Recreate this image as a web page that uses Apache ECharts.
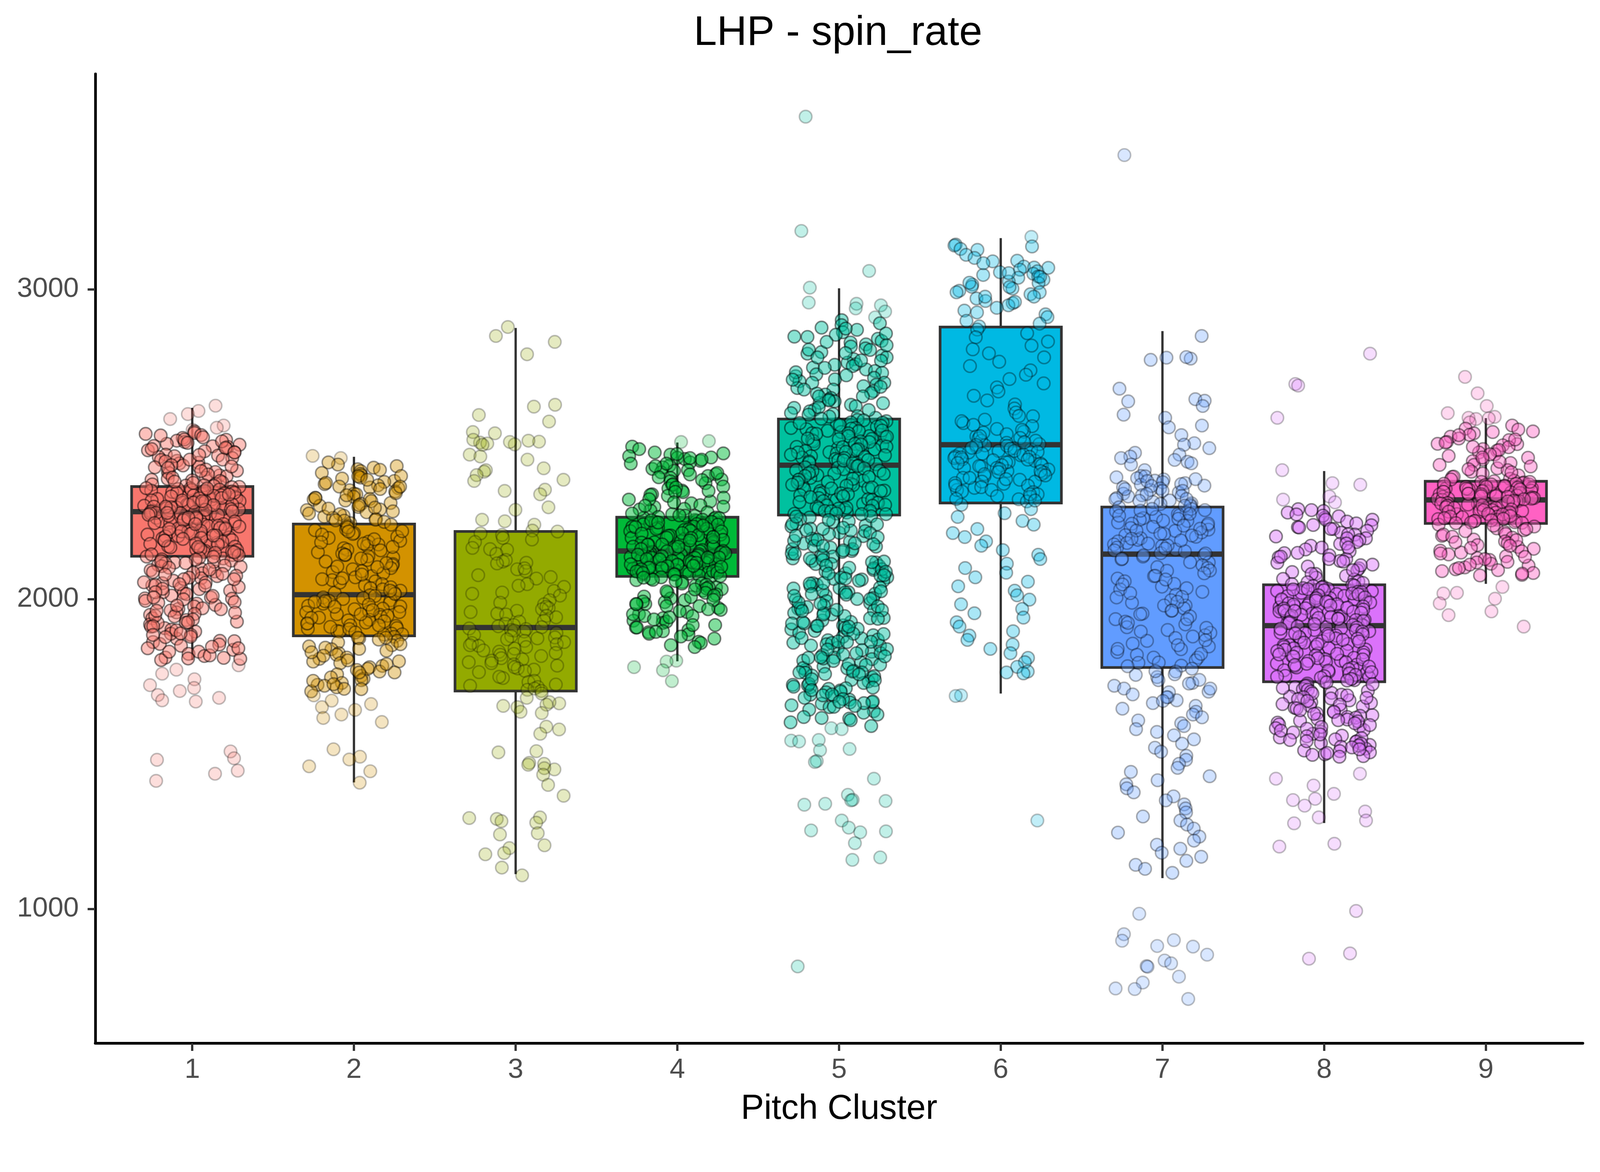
<!DOCTYPE html>
<html>
<head>
<meta charset="utf-8">
<title>LHP - spin_rate</title>
<script src="https://cdn.jsdelivr.net/npm/echarts@6/dist/echarts.min.js"></script>
<style>
    html, body { margin: 0; padding: 0; background: #ffffff; overflow: hidden; }
    #chart { width: 4200px; height: 3000px; }
</style>
</head>
<body>
<div id="chart"></div>
<script>
// pitch clusters on the x axis
var clusters = [1, 2, 3, 4, 5, 6, 7, 8, 9];
var yTicks = [1000, 2000, 3000];

// box statistics
var whiskerLow  = [1803, 1408, 1112, 1799, 1814, 1695, 1099, 1277, 2049];
var quart1      = [2138, 1881, 1703, 2073, 2271, 2310, 1779, 1733, 2244];
var medians     = [2282, 2014, 1908, 2155, 2432, 2498, 2145, 1914, 2320];
var quart3      = [2363, 2242, 2218, 2264, 2581, 2878, 2297, 2046, 2380];
var whiskerHigh = [2617, 2459, 2875, 2505, 3003, 3165, 2865, 2413, 2584];

// individual pitches (spin rate), one array per cluster
var spin1 = [2624,2607,2597,2581,2560,2553,2546,2541,2536,2533,2529,2522,2520,2514,2511,2507,2501,2498,2493,2491,2486,2480,2477,2474,2466,2463,2458,2455,2449,2446,2440,2438,2431,2427,2425,2418,2414,2409,2406,2399,2396,2392,2385,2383,2377,2372,2370,2366,2362,2361,2357,2355,2352,2350,2347,2346,2342,2339,2338,2334,2331,2330,2326,2323,2321,2318,2316,2313,2311,2308,2305,2304,2301,2298,2296,2293,2291,2289,2286,2284,2281,2277,2275,2271,2268,2264,2262,2257,2254,2251,2246,2243,2240,2236,2231,2228,2224,2219,2216,2212,2208,2203,2199,2196,2190,2187,2182,2178,2173,2169,2164,2160,2155,2151,2146,2142,2137,2131,2124,2118,2110,2104,2097,2089,2083,2074,2067,2059,2051,2044,2036,2027,2019,2011,2002,1994,1985,1976,1968,1957,1949,1938,1927,1918,1906,1895,1884,1872,1861,1849,1836,1823,1811,1803,1786,1772,1759,1741,1722,1713,1703,1690,1681,1673,1669,1508,1486,1481,1446,1436,1413,
    2528,2515,2509,2494,2488,2473,2461,2450,2444,2432,2423,2410,2402,2388,2381,2375,2367,2365,2358,2353,2349,2343,2341,2335,2333,2326,2325,2318,2314,2311,2305,2303,2298,2296,2290,2288,2283,2282,2278,2276,2272,2269,2265,2261,2259,2254,2250,2245,2242,2237,2234,2229,2227,2220,2218,2213,2211,2205,2202,2197,2194,2188,2185,2179,2176,2170,2167,2161,2158,2153,2149,2144,2141,2133,2128,2120,2115,2106,2101,2093,2085,2079,2069,2064,2054,2048,2039,2032,2022,2016,2005,1999,1988,1981,1970,1963,1952,1944,1932,1923,1911,1901,1888,1878,1865,1855,1841,1830,1816,1807,2504,2484,2465,2450,2428,2413,2392,2379,2357,2337,2316,2298,2278,2263,2242,2226,2205,2189,2168,2151,
    2136,2127,2116,2108,2095,2087,2075,2064,2053,2045,2033,2022,2010,2001,1990,1979,1967,1956,1946,1934,1923,1912,1899,1889,1877,1864,1853,1841,1830,1818,1808,2122,2081,2043,2005,1962,1925,1884,1846,1810];
var spin2 = [2462,2455,2434,2429,2419,2413,2404,2399,2392,2389,2381,2378,2371,2367,2360,2358,2351,2347,2340,2338,2330,2327,2321,2318,2310,2307,2301,2297,2289,2287,2280,2276,2269,2266,2258,2256,2249,2245,2237,2234,2225,2222,2213,2210,2201,2197,2188,2185,2176,2172,2164,2159,2151,2147,2138,2134,2126,2121,2113,2109,2100,2096,2087,2083,2074,2070,2061,2057,2048,2044,2035,2031,2023,2020,2016,2012,2005,2003,1996,1994,1987,1985,1978,1976,1969,1967,1960,1958,1951,1949,1942,1940,1933,1931,1924,1922,1915,1913,1906,1904,1897,1895,1888,1886,1878,1873,1865,1860,1851,1847,1838,1833,1825,1820,1811,1807,1798,1793,1784,1780,1771,1766,1757,1752,1743,1738,1729,1723,1715,1710,1702,1689,1672,1661,1651,1642,1627,1616,1603,1515,1491,1482,1460,1444,1407,
    2441,2424,2417,2407,2396,2385,2375,2363,2355,2342,2335,2323,2316,2303,2295,2283,2274,2262,2253,2240,2231,2218,2208,2193,2183,2168,2157,2142,2131,2116,2105,2090,2079,2064,2053,2038,2027,2017,2010,2000,1993,1982,1975,1964,1957,1946,1939,1928,1921,1910,1903,1892,1885,1875,1869,1854,1843,1828,1817,1802,1790,1775,1763,1747,1736,1720,1709,2397,2363,2326,2292,2254,2219,2179,2143,2103,2067,2027,1991,1951,1915,1875,1839,1799,1763,1725];
var spin3 = [2878,2849,2830,2790,2627,2621,2594,2573,2539,2535,2508,2511,2505,2514,2502,2499,2507,2498,2466,2460,2450,2422,2416,2411,2400,2385,2381,2353,2349,2338,2296,2288,2256,2251,2240,2218,2212,2221,2207,2197,2192,2184,2165,2161,2159,2146,2121,2126,2117,2115,2096,2090,2099,2071,2066,2077,2048,2043,2039,2021,2017,2026,2011,1996,1983,1988,1971,1967,1975,1958,1953,1962,1946,1941,1950,1927,1930,1920,1916,1905,1900,1909,1903,1912,1895,1890,1898,1880,1884,1876,1870,1865,1873,1858,1854,1861,1845,1849,1840,1851,1830,1834,1826,1820,1816,1823,1805,1809,1801,1789,1793,1785,1796,1776,1780,1772,1764,1768,1745,1749,1732,1736,1720,1724,1716,1707,1711,1703,1695,1681,1663,1667,1659,1651,1655,1632,1636,1588,1579,1565,1509,1505,1471,1468,1465,1450,1454,1433,1400,1365,1295,1290,1293,1283,1278,1240,1244,1205,1196,1180,1176,1133,1108];
var spin4 = [2510,2507,2492,2484,2473,2470,2466,2461,2456,2452,2446,2441,2437,2431,2425,2420,2414,2409,2403,2397,2391,2386,2380,2374,2368,2363,2357,2350,2345,2338,2333,2327,2321,2315,2309,2303,2297,2291,2286,2280,2274,2269,2265,2262,2259,2255,2252,2248,2245,2241,2237,2233,2230,2226,2223,2219,2215,2212,2208,2205,2201,2197,2194,2190,2187,2183,2179,2176,2172,2169,2165,2161,2158,2154,2152,2149,2146,2144,2141,2139,2136,2133,2131,2128,2125,2123,2120,2117,2114,2112,2109,2106,2104,2101,2098,2096,2093,2090,2088,2085,2082,2079,2076,2071,2066,2061,2055,2050,2044,2038,2032,2027,2021,2015,2008,2002,1996,1990,1984,1977,1971,1965,1958,1951,1945,1938,1930,1923,1916,1908,1900,1893,1886,1879,1872,1862,1858,1851,1845,1801,1798,1780,1770,1735,
    2468,2457,2450,2437,2429,2416,2407,2393,2384,2370,2360,2346,2336,2322,2312,2298,2289,2276,2268,2263,2261,2256,2254,2249,2247,2242,2240,2234,2232,2227,2225,2220,2218,2213,2211,2206,2204,2198,2197,2191,2189,2184,2182,2176,2175,2169,2168,2162,2161,2155,2154,2150,2148,2145,2143,2140,2138,2134,2133,2129,2128,2123,2122,2118,2117,2112,2111,2107,2106,2101,2100,2096,2095,2090,2089,2085,2084,2080,2079,2074,2070,2062,2058,2050,2046,2038,2034,2025,2020,2011,2006,1997,1992,1983,1977,1967,1961,1951,1945,1934,1927,1916,1908,1896,1888,2455,2402,2349,2301,2270,2237,2200,2169,2134,2104,2069,2031,1984,1941,1894];
var spin5 = [3557,3188,3059,3005,2957,2953,2948,2938,2928,2909,2900,2890,2884,2876,2869,2861,2853,2847,2840,2833,2828,2822,2815,2809,2804,2797,2792,2786,2780,2774,2769,2763,2758,2752,2747,2741,2736,2730,2725,2719,2714,2709,2703,2698,2692,2687,2681,2676,2671,2665,2660,2654,2649,2644,2638,2633,2627,2622,2617,2611,2606,2600,2595,2590,2585,2578,2574,2569,2565,2561,2556,2552,2548,2543,2539,2535,2530,2526,2522,2517,2513,2509,2504,2500,2496,2491,2487,2483,2478,2474,2470,2465,2461,2457,2452,2448,2444,2439,2435,2428,2424,2419,2414,2410,2405,2400,2396,2391,2386,2382,2377,2372,2368,2363,2358,2354,2349,2344,2340,2335,2330,2326,2321,2316,2312,2307,2302,2298,2293,2288,2284,2279,2275,2263,2251,2238,2227,2214,2203,2190,2179,2166,2155,2142,2131,2118,2107,2094,2083,2070,2059,2046,2035,2022,2011,1998,1987,1974,1963,1950,1939,1926,1915,1902,1891,1878,1867,1854,1843,1830,1819,1806,1795,1782,1771,1758,1747,1734,1723,1710,1699,1686,1675,1662,1651,1638,1627,1614,1602,1590,1583,1580,1545,1543,1540,1516,1512,1477,1474,1420,1368,1352,1350,1348,1339,1336,1285,1262,1253,1250,1247,1212,1166,1158,814,
    2873,2857,2846,2830,2819,2805,2794,2780,2770,2756,2746,2732,2722,2708,2698,2685,2676,2663,2654,2641,2632,2619,2610,2597,2589,2582,2577,2570,2568,2561,2559,2552,2550,2544,2542,2535,2533,2526,2524,2518,2516,2509,2507,2501,2498,2492,2490,2484,2481,2475,2473,2466,2464,2458,2455,2449,2447,2440,2438,2431,2429,2425,2422,2415,2413,2406,2404,2397,2394,2388,2385,2378,2376,2369,2366,2360,2357,2350,2348,2341,2338,2332,2329,2322,2320,2313,2311,2304,2301,2295,2292,2285,2283,2276,2274,2267,2258,2244,2234,2219,2209,2195,2185,2171,2161,2147,2137,2123,2113,2099,2089,2075,2065,2051,2041,2027,2017,2003,1993,1979,1969,1955,1945,1931,1921,1907,1897,1883,1873,1859,1849,1835,1825,1811,1801,1787,1777,1763,1753,1739,1729,1715,1705,1691,1681,1667,1657,1643,1633,1619,1609,2242,2192,2146,2096,2050,2000,1954,1904,1858,1808,1762,1712,1666,1616,2221,2169,2121,2069,2021,1969,1921,1869,1821,1769,1721,1669,
    2266,2249,2241,2226,2213,2199,2188,2177,2161,2152,2139,2126,2113,2101,2088,2077,2063,2052,2037,2025,2014,2000,1989,1976,1964,1950,1938,1925,1913,1899,1888,1874,1863,1850,1837,1825,1812,1800,1788,1776,1763,1751,1738,1726,1714,1701,1689,1677,1664,1652,2255,2230,2204,2180,2157,2131,2108,2082,2059,2034,2010,1985,1961,1936,1911,1887,1862,1838,1815,1790,1766,1741,1717,1692,1668,2274,2222,2171,2119,2066,2016,1965,1913,1861,1810,1757,1706,1655];
var spin6 = [3169,3144,3141,3138,3130,3127,3111,3092,3090,3073,3070,3063,3058,3055,3050,3046,3041,3037,3031,3025,3020,3015,3008,3002,2995,2990,2984,2976,2970,2962,2955,2948,2940,2931,2925,2919,2910,2898,2889,2880,2870,2858,2845,2831,2818,2806,2793,2780,2766,2752,2738,2724,2710,2696,2683,2670,2656,2641,2628,2615,2602,2590,2579,2568,2558,2549,2540,2532,2525,2518,2511,2504,2500,2496,2491,2487,2482,2478,2473,2469,2464,2460,2455,2451,2446,2442,2437,2432,2428,2423,2418,2413,2408,2402,2397,2391,2385,2379,2372,2366,2359,2352,2345,2338,2330,2322,2315,2304,2290,2277,2265,2252,2240,2226,2213,2200,2186,2172,2158,2143,2129,2114,2100,2085,2070,2056,2041,2027,2012,1998,1983,1968,1954,1940,1925,1911,1896,1882,1868,1853,1839,1825,1810,1796,1781,1766,1763,1760,1689,1687,1285,
    3101,3084,3069,3052,3040,3021,3007,2990,2976,2959,2591,2574,2562,2546,2537,2526,2520,2511,2506,2497,2495,2488,2485,2478,2475,2469,2466,2459,2457,2450,2448,2441,2439,2432,2429,2423,2420,2413,2410,2403,2399,2391,2387,2379,2374,2366,2361,2352,2347,2338,2332,2323,2318];
var spin7 = [3433,2849,2779,2776,2772,2781,2679,2645,2640,2638,2623,2595,2585,2560,2554,2529,2503,2498,2487,2472,2466,2460,2455,2449,2443,2438,2434,2416,2397,2393,2390,2386,2382,2377,2374,2369,2366,2361,2357,2352,2349,2344,2340,2335,2331,2326,2322,2318,2313,2309,2304,2300,2296,2291,2287,2283,2278,2274,2270,2265,2261,2256,2252,2247,2243,2238,2233,2229,2224,2220,2215,2210,2206,2201,2196,2191,2186,2181,2176,2171,2166,2160,2154,2148,2142,2137,2128,2118,2109,2100,2092,2083,2074,2066,2057,2049,2040,2031,2023,2014,2005,1996,1988,1979,1970,1962,1953,1944,1935,1927,1918,1909,1900,1891,1883,1874,1865,1856,1847,1838,1829,1820,1811,1802,1794,1785,1775,1766,1757,1748,1738,1729,1720,1711,1701,1692,1683,1673,1664,1655,1646,1636,1627,1618,1608,1599,1590,1580,1571,1560,1547,1533,1520,1507,1494,1481,1468,1455,1442,1428,1415,1402,1389,1376,1363,1350,1337,1324,1311,1298,1285,1272,1259,1246,1233,1220,1207,1194,1181,1168,1155,1142,1129,1116,984,918,899,897,880,878,852,833,824,815,813,781,762,743,741,709,
    2396,2387,2381,2371,2365,2355,2349,2339,2333,2323,2317,2307,2301,2291,2285,2275,2269,2259,2253,2243,2237,2227,2221,2211,2205,2195,2189,2179,2173,2163,2157,2147,2141,2130,2119,2103,2091,2075,2063,2047,2035,2019,2007,1991,1979,1963,1951,1935,1923,1907,1895,1879,1867,1851,1839,1823,1811,1795,1783,1767,1755,1739,1727,1711,1699,1683,1671];
var spin8 = [2792,2694,2689,2585,2416,2374,2369,2331,2321,2312,2290,2284,2279,2273,2267,2262,2256,2250,2244,2238,2232,2226,2220,2214,2208,2202,2196,2190,2184,2178,2172,2166,2160,2154,2148,2141,2135,2129,2123,2117,2111,2105,2099,2093,2087,2081,2075,2069,2063,2057,2052,2046,2043,2040,2036,2033,2030,2026,2023,2020,2016,2013,2010,2006,2003,2000,1996,1993,1990,1986,1983,1980,1976,1973,1970,1966,1963,1960,1956,1953,1950,1946,1943,1940,1936,1933,1930,1926,1923,1920,1917,1914,1909,1905,1900,1896,1891,1887,1882,1878,1873,1869,1864,1860,1855,1851,1846,1842,1837,1833,1828,1824,1819,1815,1810,1806,1801,1797,1792,1788,1783,1779,1774,1770,1765,1761,1756,1752,1747,1743,1738,1733,1727,1721,1715,1709,1703,1697,1691,1685,1679,1673,1667,1661,1655,1649,1643,1637,1631,1625,1619,1613,1607,1601,1595,1589,1583,1577,1571,1565,1559,1553,1547,1541,1535,1529,1523,1517,1511,1505,1499,1493,1436,1420,1398,1371,1355,1351,1333,1314,1295,1285,1276,1210,1201,993,856,839,
    2287,2269,2256,2239,2226,2209,2196,2179,2166,2149,2137,2121,2109,2093,2081,2065,2054,2048,2042,2038,2035,2032,2028,2025,2022,2018,2015,2012,2009,2005,2002,1999,1995,1992,1989,1986,1982,1979,1976,1972,1969,1966,1962,1959,1956,1952,1949,1946,1942,1939,1936,1932,1929,1926,1922,1919,1916,1912,1908,1904,1899,1895,1890,1886,1881,1877,1872,1868,1863,1859,1854,1850,1845,1841,1836,1832,1827,1823,1818,1814,1809,1805,1800,1796,1791,1787,1782,1778,1773,1769,1764,1760,1755,1751,1746,1742,1737,1731,1725,1719,1713,1707,1701,1695,1689,1683,1677,1671,1665,1659,1653,1647,1641,1635,1629,1623,1617,1611,1605,1599,1593,1587,1581,1575,1569,1563,1557,1551,1545,1539,1533,1527,1521,1515,1509,1503,1497,1491,2231,2129,2031,1961,1889,1821,1749,1681,1609,1541];
var spin9 = [2717,2664,2623,2600,2588,2585,2583,2581,2570,2560,2550,2500,2547,2541,2535,2530,2524,2518,2513,2507,2501,2496,2490,2484,2479,2473,2467,2462,2456,2450,2445,2439,2433,2428,2422,2416,2411,2405,2399,2394,2388,2382,2378,2376,2374,2372,2370,2368,2366,2364,2362,2360,2358,2356,2354,2352,2350,2348,2346,2344,2342,2340,2338,2336,2334,2332,2330,2328,2326,2324,2322,2320,2317,2315,2312,2310,2307,2305,2302,2300,2297,2294,2292,2289,2287,2284,2282,2279,2276,2274,2271,2269,2266,2264,2261,2258,2256,2253,2251,2248,2246,2240,2234,2228,2222,2216,2210,2204,2198,2192,2186,2180,2174,2168,2162,2156,2150,2144,2138,2132,2126,2120,2114,2108,2102,2096,2090,2084,2078,2076,2039,2020,2018,2001,1986,1960,1948,1911,
    2539,2529,2515,2505,2491,2481,2467,2457,2443,2433,2419,2409,2395,2386,2380,2378,2372,2370,2364,2362,2356,2354,2348,2346,2340,2338,2332,2330,2324,2322,2317,2315,2310,2308,2303,2301,2296,2294,2289,2287,2282,2280,2275,2273,2268,2266,2261,2259,2254,2252,2247,2245,2237,2226,2219,2208,2201,2190,2183,2172,2165,2154,2147,2136,2129,2118,2111,2100,2093,2082];
var spinByCluster = [spin1, spin2, spin3, spin4, spin5, spin6, spin7, spin8, spin9];

var palette = ['#F8766D', '#D39200', '#93AA00', '#00BA38', '#00C19F', '#00B9E3', '#619CFF', '#DB72FB', '#FF61C3'];
// point transparency inside each cloud's crowded band; sparse edges stay light
var pointAlpha = [0.58, 0.5, 0.3, 0.62, 0.58, 0.42, 0.38, 0.58, 0.52];
var crowdLow  = [1800, 1700, 0, 1840, 1590, 1695, 1099, 1490, 2049];
var crowdHigh = [2545, 2445, 9999, 2500, 2900, 3165, 2865, 2300, 2560];
var LIGHT_ALPHA = 0.3;
var FONT = 'Liberation Sans';
var BOX_WIDTH = 0.75;
var JITTER = 0.3;

// the layout was measured on a 4200 x 3000 canvas; follow the real viewport
var W = window.innerWidth || 4200;
var H = window.innerHeight || 3000;
var S = Math.min(W / 4200, H / 3000);
function px(v) { return v * S; }

var dom = document.getElementById('chart');
dom.style.width = (4200 * S) + 'px';
dom.style.height = (3000 * S) + 'px';

function withAlpha(hex, a) {
    var r = parseInt(hex.slice(1, 3), 16);
    var g = parseInt(hex.slice(3, 5), 16);
    var b = parseInt(hex.slice(5, 7), 16);
    return 'rgba(' + r + ',' + g + ',' + b + ',' + a + ')';
}

// fixed (hash based) horizontal spread, like geom_jitter(width = 0.3)
function jitterAt(ci, i) {
    var s = Math.sin((i + 1) * 12.9898 + (ci + 1) * 78.233) * 43758.5453;
    return ((s - Math.floor(s)) - 0.5) * 2 * JITTER;
}

var boxData = clusters.map(function (c, i) {
    return [c, whiskerLow[i], quart1[i], medians[i], quart3[i], whiskerHigh[i]];
});

var series = [{
    type: 'custom',
    z: 1,
    data: boxData,
    encode: { x: 0, y: [1, 2, 3, 4, 5] },
    renderItem: function (params, api) {
        var x = api.value(0);
        var lo = api.coord([x, api.value(1)]);
        var q1 = api.coord([x, api.value(2)]);
        var md = api.coord([x, api.value(3)]);
        var q3 = api.coord([x, api.value(4)]);
        var hi = api.coord([x, api.value(5)]);
        var half = api.size([BOX_WIDTH, 0])[0] / 2;
        return {
            type: 'group',
            children: [{
                type: 'line',
                shape: { x1: lo[0], y1: lo[1], x2: hi[0], y2: hi[1] },
                style: { stroke: '#333333', lineWidth: px(6) }
            }, {
                type: 'rect',
                shape: { x: q3[0] - half, y: q3[1], width: half * 2, height: q1[1] - q3[1] },
                style: { fill: palette[params.dataIndex], stroke: '#333333', lineWidth: px(7) }
            }, {
                type: 'line',
                shape: { x1: md[0] - half, y1: md[1], x2: md[0] + half, y2: md[1] },
                style: { stroke: '#333333', lineWidth: px(14) }
            }]
        };
    }
}];

spinByCluster.forEach(function (values, ci) {
    var inner = pointAlpha[ci];
    series.push({
        type: 'scatter',
        z: 3,
        symbol: 'circle',
        symbolSize: px(33),
        itemStyle: {
            color: withAlpha(palette[ci], inner),
            borderColor: 'rgba(0,0,0,' + inner + ')',
            borderWidth: px(4)
        },
        data: values.map(function (v, i) {
            var item = { value: [clusters[ci] + jitterAt(ci, i), v] };
            if (v < crowdLow[ci] || v > crowdHigh[ci]) {
                item.itemStyle = {
                    color: withAlpha(palette[ci], LIGHT_ALPHA),
                    borderColor: 'rgba(0,0,0,' + LIGHT_ALPHA + ')'
                };
            }
            return item;
        })
    });
});

var chart = echarts.init(dom, null, { renderer: 'canvas' });
chart.setOption({
    animation: false,
    backgroundColor: '#ffffff',
    title: {
        text: 'LHP - spin_rate',
        left: px(1816),
        top: px(28),
        textStyle: { fontFamily: FONT, fontSize: px(109), fontWeight: 'normal', color: '#000000' }
    },
    grid: { left: px(250), right: px(45), top: px(194), bottom: px(262) },
    xAxis: {
        type: 'value',
        min: 0.4,
        max: 9.6,
        name: 'Pitch Cluster',
        nameLocation: 'middle',
        nameGap: px(128),
        nameTextStyle: { fontFamily: FONT, fontSize: px(91), color: '#000000' },
        axisLine: { show: true, onZero: false, lineStyle: { color: '#000000', width: px(7) } },
        axisTick: { show: true, customValues: clusters, length: px(20), lineStyle: { color: '#333333', width: px(6) } },
        axisLabel: { customValues: clusters, margin: px(34), fontFamily: FONT, fontSize: px(73), color: '#4D4D4D' },
        splitLine: { show: false }
    },
    yAxis: {
        type: 'value',
        min: 566,
        max: 3695,
        axisLine: { show: true, onZero: false, lineStyle: { color: '#000000', width: px(7) } },
        axisTick: { show: true, customValues: yTicks, length: px(20), lineStyle: { color: '#333333', width: px(6) } },
        axisLabel: {
            customValues: yTicks,
            margin: px(43),
            fontFamily: FONT,
            fontSize: px(73),
            color: '#4D4D4D',
            formatter: function (v) { return String(v); }
        },
        splitLine: { show: false }
    },
    series: series
});
</script>
</body>
</html>
